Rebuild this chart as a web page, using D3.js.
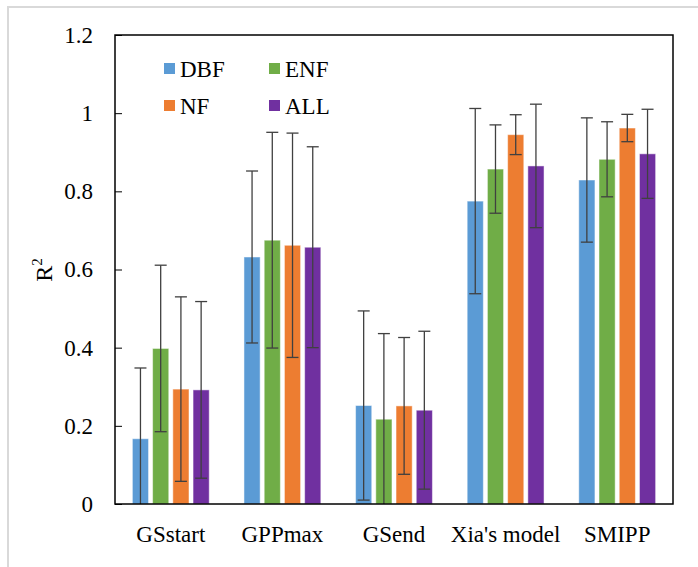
<!DOCTYPE html>
<html>
<head>
<meta charset="utf-8">
<script src="https://cdn.jsdelivr.net/npm/d3@7"></script>
<style>
  body { margin: 0; background: #fff; }
  svg text { font-family: 'Liberation Serif', 'Times New Roman', serif; fill: #000; }
</style>
</head>
<body>
<script>
// chart data
var categories = ["GSstart", "GPPmax", "GSend", "Xia's model", "SMIPP"];
var seriesNames = ["DBF", "ENF", "NF", "ALL"];
var colors = ["#5B9BD5", "#70AD47", "#ED7D31", "#7030A0"];

// mean R2 per series, one value per category
var dbfMean = [0.167, 0.632, 0.252, 0.775, 0.829];
var enfMean = [0.398, 0.675, 0.217, 0.857, 0.882];
var nfMean  = [0.294, 0.662, 0.251, 0.945, 0.962];
var allMean = [0.292, 0.657, 0.240, 0.865, 0.896];

// standard deviation (error bars)
var dbfSd = [0.181, 0.220, 0.242, 0.237, 0.159];
var enfSd = [0.213, 0.276, 0.219, 0.113, 0.096];
var nfSd  = [0.236, 0.287, 0.175, 0.051, 0.035];
var allSd = [0.226, 0.257, 0.202, 0.158, 0.114];

var yTicks = [0, 0.2, 0.4, 0.6, 0.8, 1, 1.2];

var means = [dbfMean, enfMean, nfMean, allMean];
var sds = [dbfSd, enfSd, nfSd, allSd];

var FONT = "'Liberation Serif', 'Times New Roman', serif";

var W = 698, H = 567;
var margin = { top: 35, right: 25, bottom: 63, left: 115 };
var width = W - margin.left - margin.right,
    height = H - margin.top - margin.bottom;

var svg = d3.select("body").append("svg")
    .attr("width", W)
    .attr("height", H)
    .attr("font-family", FONT);

// outer chart border (only left/top visible in the picture)
svg.append("rect")
  .attr("x", 8).attr("y", 7)
  .attr("width", W + 20).attr("height", H + 20)
  .attr("fill", "none")
  .attr("stroke", "#d9d9d9")
  .attr("stroke-width", 2);

var g = svg.append("g")
  .attr("transform", "translate(" + margin.left + "," + margin.top + ")");

var x0 = d3.scaleBand()
  .domain(categories)
  .range([0, width])
  .paddingInner(0.275)
  .paddingOuter(0.1375);

var x1 = d3.scaleBand()
  .domain(seriesNames)
  .range([0, x0.bandwidth()])
  .paddingInner(0.2)
  .paddingOuter(0.1);

var y = d3.scaleLinear()
  .domain([0, 1.2])
  .range([height, 0]);

// rows for drawing
var rows = [];
categories.forEach(function(c, i) {
  seriesNames.forEach(function(s, j) {
    rows.push({ cat: c, series: s, color: colors[j], value: means[j][i], sd: sds[j][i] });
  });
});

// bars
g.selectAll("rect.bar")
  .data(rows)
  .enter()
  .append("rect")
  .attr("class", "bar")
  .attr("x", function(d) { return x0(d.cat) + x1(d.series); })
  .attr("y", function(d) { return y(d.value); })
  .attr("width", x1.bandwidth())
  .attr("height", function(d) { return height - y(d.value); })
  .attr("fill", function(d) { return d.color; })
  .attr("stroke", "#fff")
  .attr("stroke-opacity", 0.5)
  .attr("stroke-width", 1);

// error bars
var capHalf = 6;
var err = g.selectAll("g.err")
  .data(rows)
  .enter()
  .append("g")
  .attr("class", "err")
  .attr("stroke", "#404040")
  .attr("stroke-width", 1.3);

function cx(d) { return x0(d.cat) + x1(d.series) + x1.bandwidth() / 2; }
function hiY(d) { return y(d.value + d.sd); }
function loY(d) { return y(Math.max(0, d.value - d.sd)); }

err.append("line")
  .attr("x1", cx).attr("x2", cx)
  .attr("y1", hiY).attr("y2", loY);
err.append("line")
  .attr("x1", function(d) { return cx(d) - capHalf; })
  .attr("x2", function(d) { return cx(d) + capHalf; })
  .attr("y1", hiY).attr("y2", hiY);
err.filter(function(d) { return d.value - d.sd > 0; })
  .append("line")
  .attr("x1", function(d) { return cx(d) - capHalf; })
  .attr("x2", function(d) { return cx(d) + capHalf; })
  .attr("y1", loY).attr("y2", loY);

// y axis (ticks pointing inward)
var yAxis = g.append("g")
  .call(d3.axisLeft(y).tickValues(yTicks).tickSize(-7).tickPadding(22)
    .tickFormat(function(d) { return String(d); }));
yAxis.attr("font-family", FONT).attr("font-size", 23);
yAxis.select(".domain").remove();
yAxis.selectAll("line").attr("stroke", "#000");
yAxis.selectAll("text").attr("fill", "#000");

// x labels
g.append("g")
  .selectAll("text")
  .data(categories)
  .enter()
  .append("text")
  .attr("x", function(d) { return x0(d) + x0.bandwidth() / 2; })
  .attr("y", height + 38)
  .attr("text-anchor", "middle")
  .attr("font-size", 23)
  .text(function(d) { return d; });

// plot frame
g.append("rect")
  .attr("x", 0).attr("y", 0)
  .attr("width", width).attr("height", height)
  .attr("fill", "none")
  .attr("stroke", "#000")
  .attr("stroke-width", 1.5);

// y title R^2
var yt = svg.append("text")
  .attr("transform", "translate(52,270) rotate(-90)")
  .attr("text-anchor", "middle")
  .attr("font-size", 24);
yt.append("tspan").text("R");
yt.append("tspan").attr("dy", -10).attr("font-size", 15).text("2");

// legend
var legend = svg.append("g").attr("transform", "translate(164,63)");
var li = legend.selectAll("g")
  .data(seriesNames)
  .enter()
  .append("g")
  .attr("transform", function(d, i) {
    return "translate(" + ((i % 2) * 105) + "," + (Math.floor(i / 2) * 37) + ")";
  });
li.append("rect")
  .attr("width", 11).attr("height", 11)
  .attr("fill", function(d, i) { return colors[i]; });
li.append("text")
  .attr("x", 16)
  .attr("y", 14)
  .attr("font-size", 23)
  .text(function(d) { return d; });
</script>
</body>
</html>
